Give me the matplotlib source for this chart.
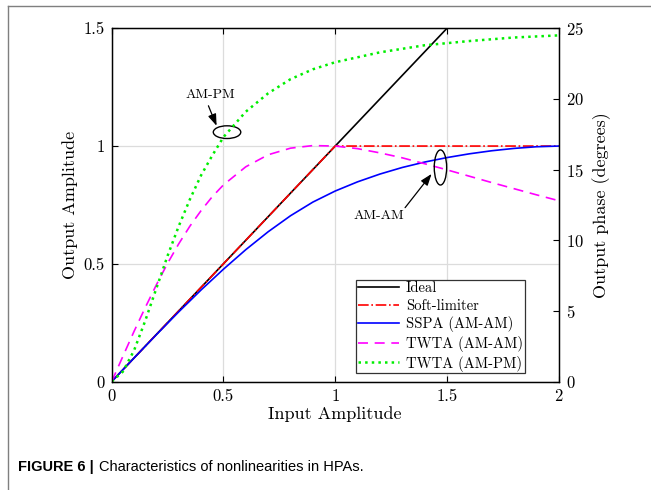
import matplotlib
matplotlib.use("Agg")
import matplotlib.pyplot as plt
from matplotlib.patches import Ellipse
from matplotlib.lines import Line2D
from matplotlib import font_manager

plt.rcParams["font.family"] = "cmr10"
plt.rcParams["mathtext.fontset"] = "cm"
plt.rcParams["axes.formatter.use_mathtext"] = True

# ---------------------------------------------------------------------------
# Data
# ---------------------------------------------------------------------------
ideal_x = [0.0, 1.5]
ideal_y = [0.0, 1.5]

soft_x = [0.0, 1.0, 2.0]
soft_y = [0.0, 1.0, 1.0]

sspa_x = [0.0, 0.1, 0.2, 0.3, 0.4, 0.5, 0.6, 0.7, 0.8, 0.9, 1.0,
          1.1, 1.2, 1.3, 1.4, 1.5, 1.6, 1.7, 1.8, 1.9, 2.0]
sspa_y = [0.0, 0.100, 0.199, 0.296, 0.389, 0.477, 0.560, 0.636, 0.704, 0.762, 0.809,
          0.848, 0.881, 0.909, 0.932, 0.951, 0.967, 0.980, 0.990, 0.997, 1.0]

twta_am_x = [0.0, 0.05, 0.1, 0.15, 0.2, 0.25, 0.3, 0.35, 0.4, 0.45, 0.5,
             0.6, 0.7, 0.8, 0.9, 1.0, 1.1, 1.2, 1.3, 1.4, 1.5,
             1.6, 1.7, 1.8, 1.9, 2.0]
twta_am_y = [0.0, 0.107, 0.213, 0.314, 0.411, 0.502, 0.585, 0.660, 0.726, 0.785, 0.835,
             0.912, 0.963, 0.991, 1.002, 1.0, 0.989, 0.971, 0.950, 0.925, 0.899,
             0.872, 0.845, 0.819, 0.793, 0.768]

twta_pm_x = [0.0, 0.05, 0.1, 0.15, 0.2, 0.25, 0.3, 0.35, 0.4, 0.45, 0.5,
             0.6, 0.7, 0.8, 0.9, 1.0, 1.2, 1.4, 1.6, 1.8, 2.0]
twta_pm_deg = [0.0, 0.7, 2.2, 4.3, 6.6, 8.9, 11.0, 12.9, 14.6, 16.0, 17.3,
               19.1, 20.4, 21.4, 22.1, 22.6, 23.3, 23.8, 24.1, 24.35, 24.5]

x_ticks = [0, 0.5, 1, 1.5, 2]
x_tick_labels = ["0", "0.5", "1", "1.5", "2"]
y_ticks = [0, 0.5, 1, 1.5]
y_tick_labels = ["0", "0.5", "1", "1.5"]
phase_ticks = [0, 5, 10, 15, 20, 25]

# ---------------------------------------------------------------------------
fig = plt.figure(figsize=(6.51, 4.90), dpi=100)
ax = fig.add_axes([0.1716, 0.2214, 0.6866, 0.7208])
ax2 = ax.twinx()

ax.set_xlim(0, 2)
ax.set_ylim(0, 1.5)
ax2.set_ylim(0, 25)

ax.grid(True, color="#dcdcdc", linewidth=0.9)
ax.set_axisbelow(True)

h1, = ax.plot(ideal_x, ideal_y, "-", color="black", lw=1.2, label="Ideal")
h2, = ax.plot(soft_x, soft_y, "-.", color="#ff0000", lw=1.2, label="Soft-limiter")
h3, = ax.plot(sspa_x, sspa_y, "-", color="#0000ff", lw=1.2, label="SSPA (AM-AM)")
h4, = ax.plot(twta_am_x, twta_am_y, "--", color="#ff00ff", lw=1.2,
              dashes=(6, 4), label="TWTA (AM-AM)")
h5, = ax2.plot(twta_pm_x, twta_pm_deg, ":", color="#00ee00", lw=1.8,
               label="TWTA (AM-PM)")

ax.set_xticks(x_ticks)
ax.set_xticklabels(x_tick_labels)
ax.set_yticks(y_ticks)
ax.set_yticklabels(y_tick_labels)
ax2.set_yticks(phase_ticks)

ax.tick_params(direction="in", length=4, width=0.8, labelsize=12, top=True,
               right=False, pad=5)
ax2.tick_params(direction="in", length=4, width=0.8, labelsize=12, pad=5)
for a in (ax, ax2):
    for s in a.spines.values():
        s.set_linewidth(0.9)

ax.set_xlabel("Input Amplitude", fontsize=13, labelpad=2)
ax.set_ylabel("Output Amplitude", fontsize=13, labelpad=4)
ax2.set_ylabel("Output phase (degrees)", fontsize=13, labelpad=6)

# annotations
ax.add_patch(Ellipse((0.516, 1.059), 0.123, 0.054, fill=False,
                     edgecolor="black", lw=1.0, zorder=6))
ax.text(0.44, 1.218, "AM-PM", fontsize=10, ha="center", va="center")
ax.annotate("", xy=(0.474, 1.075), xytext=(0.428, 1.182),
            arrowprops=dict(arrowstyle="-|>,head_length=0.7,head_width=0.25",
                            color="black", lw=0.9))

ax.add_patch(Ellipse((1.471, 0.909), 0.0555, 0.149, fill=False,
                     edgecolor="black", lw=1.0, zorder=6))
ax.text(1.196, 0.703, "AM-AM", fontsize=10, ha="center", va="center")
ax.annotate("", xy=(1.439, 0.891), xytext=(1.305, 0.729),
            arrowprops=dict(arrowstyle="-|>,head_length=0.7,head_width=0.25",
                            color="black", lw=0.9))

leg = ax2.legend([h1, h2, h3, h4, h5],
                 [h.get_label() for h in (h1, h2, h3, h4, h5)],
                 loc="lower left", bbox_to_anchor=(0.5465, 0.0232),
                 fontsize=10.5, frameon=True, fancybox=False,
                 handlelength=2.85, handletextpad=0.45, labelspacing=0.25,
                 borderpad=0.12, borderaxespad=0.0)
leg.get_frame().set_edgecolor("#333333")
leg.get_frame().set_linewidth(0.9)
leg.get_frame().set_alpha(1.0)

# page frame lines and caption
fig.add_artist(Line2D([8 / 651, 8 / 651], [0, 1 - 6 / 490], color="#7f7f7f", lw=1.0))
fig.add_artist(Line2D([8 / 651, 1], [1 - 6 / 490, 1 - 6 / 490], color="#7f7f7f", lw=1.0))

names = {f.name for f in font_manager.fontManager.ttflist}
cap_font = "Liberation Sans Narrow" if "Liberation Sans Narrow" in names else "Liberation Sans"
cap_size = 12 if cap_font == "Liberation Sans Narrow" else 10.5
fig.text(18 / 651, 1 - 467 / 490, "FIGURE 6 |", fontsize=cap_size, fontweight="bold",
         family=cap_font, va="center", ha="left")
fig.text(99 / 651, 1 - 467 / 490, "Characteristics of nonlinearities in HPAs.",
         fontsize=cap_size, family=cap_font, va="center", ha="left")

fig.savefig("out.png", dpi=100)
